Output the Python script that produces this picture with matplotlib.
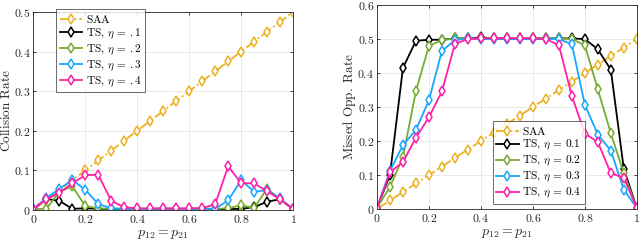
import numpy as np
import matplotlib
matplotlib.use("Agg")
import matplotlib.pyplot as plt
from matplotlib.ticker import FuncFormatter

plt.rcParams['mathtext.fontset'] = 'cm'
plt.rcParams['font.family'] = ['DejaVu Serif']

x = [0, 0.05, 0.1, 0.15, 0.2, 0.25, 0.3, 0.35, 0.4, 0.45, 0.5,
     0.55, 0.6, 0.65, 0.7, 0.75, 0.8, 0.85, 0.9, 0.95, 1.0]

saa = [0, 0.025, 0.05, 0.075, 0.1, 0.125, 0.15, 0.175, 0.2, 0.225, 0.25,
       0.275, 0.3, 0.325, 0.35, 0.375, 0.4, 0.425, 0.45, 0.475, 0.5]

col_ts1 = [0.002, 0.028, 0.023, 0.003, 0.004, 0.003, 0.002, 0.002, 0.002, 0.002, 0.002,
           0.002, 0.002, 0.002, 0.002, 0.002, 0.003, 0.007, 0.021, 0.027, 0.002]
col_ts2 = [0.002, 0.003, 0.045, 0.060, 0.010, 0.004, 0.003, 0.003, 0.003, 0.003, 0.003,
           0.003, 0.003, 0.003, 0.003, 0.004, 0.012, 0.005, 0.054, 0.027, 0.002]
col_ts3 = [0.002, 0.030, 0.053, 0.076, 0.051, 0.015, 0.004, 0.003, 0.003, 0.003, 0.003,
           0.003, 0.003, 0.003, 0.003, 0.024, 0.075, 0.046, 0.050, 0.029, 0.002]
col_ts4 = [0.002, 0.027, 0.043, 0.067, 0.088, 0.089, 0.023, 0.007, 0.004, 0.004, 0.004,
           0.004, 0.004, 0.005, 0.014, 0.110, 0.068, 0.067, 0.047, 0.027, 0.002]

mis_ts1 = [0.003, 0.100, 0.415, 0.495, 0.498, 0.498, 0.502, 0.502, 0.505, 0.502, 0.502,
           0.502, 0.502, 0.502, 0.502, 0.502, 0.500, 0.470, 0.410, 0.118, 0.003]
mis_ts2 = [0.003, 0.065, 0.153, 0.347, 0.480, 0.497, 0.502, 0.502, 0.502, 0.502, 0.502,
           0.502, 0.502, 0.502, 0.502, 0.500, 0.482, 0.352, 0.223, 0.105, 0.003]
mis_ts3 = [0.003, 0.112, 0.188, 0.233, 0.320, 0.465, 0.497, 0.502, 0.500, 0.500, 0.500,
           0.500, 0.500, 0.500, 0.500, 0.485, 0.307, 0.219, 0.172, 0.057, 0.003]
mis_ts4 = [0.003, 0.108, 0.138, 0.210, 0.270, 0.346, 0.486, 0.500, 0.502, 0.502, 0.502,
           0.502, 0.502, 0.500, 0.482, 0.333, 0.222, 0.197, 0.105, 0.092, 0.003]

labels_left = [r'$\mathrm{SAA}$', r'$\mathrm{TS},\,\eta\,=\,{.1}$', r'$\mathrm{TS},\,\eta\,=\,{.2}$',
               r'$\mathrm{TS},\,\eta\,=\,{.3}$', r'$\mathrm{TS},\,\eta\,=\,{.4}$']
labels_right = [r'$\mathrm{SAA}$', r'$\mathrm{TS},\,\eta\,=\,0.1$', r'$\mathrm{TS},\,\eta\,=\,0.2$',
                r'$\mathrm{TS},\,\eta\,=\,0.3$', r'$\mathrm{TS},\,\eta\,=\,0.4$']

colors = ['#EDB120', '#000000', '#77AC30', '#1AA6FF', '#FF1FA8']
styles = ['-.', '-', '-', '-', '-']

fig = plt.figure(figsize=(6.4, 2.43), dpi=100)
ax1 = fig.add_axes([0.052, 0.136, 0.406, 0.815])
ax2 = fig.add_axes([0.589, 0.140, 0.406, 0.839])

def fmt(v, pos):
    s = ('%g' % round(v, 3))
    return r'$' + s + '$'

def draw(ax, series, labels, ymax, ylabel, legloc, ylx, hl):
    for ys, c, ls, lab in zip(series, colors, styles, labels):
        ax.plot(x, ys, ls, color=c, lw=1.3, marker='d', markersize=5.5,
                markerfacecolor='white', markeredgecolor=c, markeredgewidth=1.1, label=lab)
    ax.set_xlim(0, 1)
    ax.set_ylim(0, ymax)
    ax.set_xticks([0, 0.2, 0.4, 0.6, 0.8, 1])
    ax.set_yticks(np.arange(0, ymax + 1e-9, 0.1))
    ax.xaxis.set_major_formatter(FuncFormatter(fmt))
    ax.yaxis.set_major_formatter(FuncFormatter(fmt))
    ax.grid(True, color='#e6e6e6', lw=0.6)
    ax.set_axisbelow(True)
    ax.tick_params(labelsize=8.5, length=2.5, width=0.6, colors='#262626', pad=2,
                   direction='in', top=True, right=True)
    for sp in ax.spines.values():
        sp.set_color('#262626')
        sp.set_linewidth(0.6)
    ax.set_xlabel(r'$p_{12} = p_{21}$', fontsize=10, color='#262626', labelpad=1)
    ax.set_ylabel(r'$\mathrm{' + ylabel.replace(' ', r'\ ') + '}$', fontsize=9.5,
                  color='#262626', va='center')
    ax.yaxis.set_label_coords(ylx, 0.5)
    leg = ax.legend(loc='lower left', bbox_to_anchor=legloc, fontsize=8.2,
                    frameon=True, fancybox=False, edgecolor='#262626',
                    borderpad=0.3, labelspacing=0.15, handlelength=hl,
                    handletextpad=0.3, borderaxespad=0)
    leg.get_frame().set_linewidth(0.6)

draw(ax1, [saa, col_ts1, col_ts2, col_ts3, col_ts4], labels_left, 0.5,
     'Collision Rate', (0.088, 0.596), -0.106, 2.0)
draw(ax2, [saa, mis_ts1, mis_ts2, mis_ts3, mis_ts4], labels_right, 0.6,
     'Missed Opp. Rate', (0.445, 0.025), -0.104, 2.0)

fig.savefig('out.png', dpi=100)
